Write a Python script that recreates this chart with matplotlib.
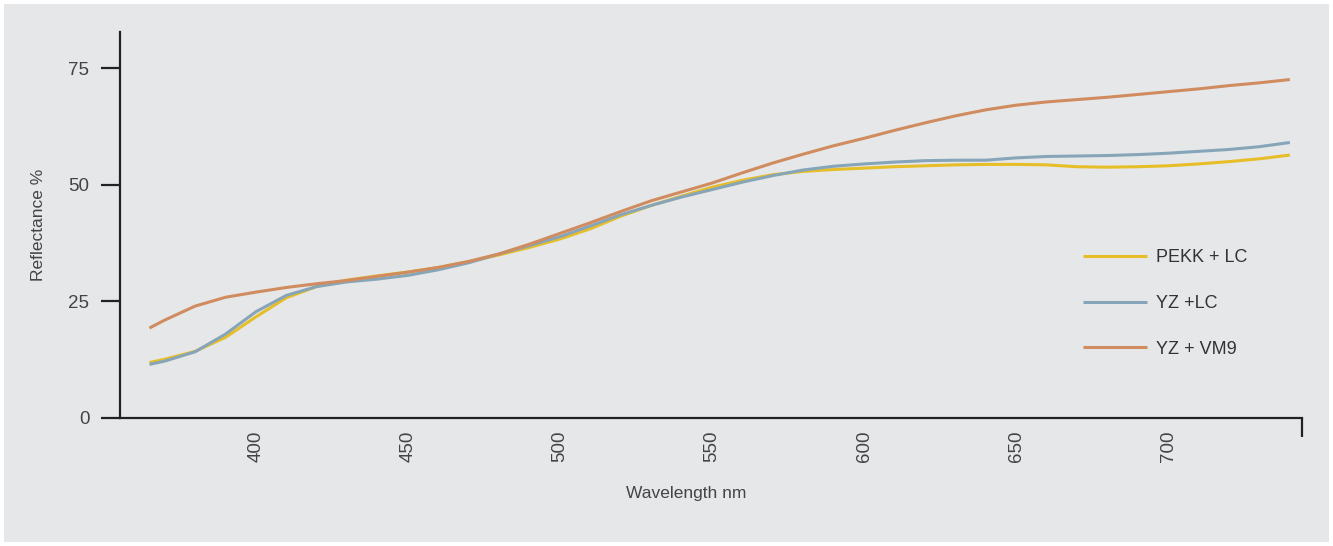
import numpy as np
import matplotlib
matplotlib.use('Agg')
import matplotlib.pyplot as plt
from matplotlib.patches import Rectangle

plt.rcParams['font.family'] = ['Liberation Sans', 'DejaVu Sans']

# wavelengths (nm) and reflectance (%)
wavelength = [365, 370, 380, 390, 400, 410, 420, 430, 440, 450, 460, 470, 480,
              490, 500, 510, 520, 530, 540, 550, 560, 570, 580, 590, 600, 610,
              620, 630, 640, 650, 660, 670, 680, 690, 700, 710, 720, 730, 740]

pekk_lc = [11.9, 12.6, 14.3, 17.3, 21.7, 25.8, 28.2, 29.6, 30.5, 31.3, 32.3,
           33.5, 35.0, 36.6, 38.4, 40.6, 43.3, 45.6, 47.6, 49.5, 51.0, 52.2,
           52.9, 53.3, 53.6, 53.9, 54.1, 54.3, 54.4, 54.4, 54.3, 53.9, 53.8,
           53.9, 54.1, 54.5, 55.0, 55.6, 56.4]

yz_lc = [11.5, 12.2, 14.2, 18.0, 22.8, 26.3, 28.2, 29.2, 29.8, 30.6, 31.8,
         33.3, 35.2, 37.0, 38.9, 41.2, 43.6, 45.6, 47.4, 49.0, 50.6, 52.0,
         53.2, 54.0, 54.5, 54.9, 55.2, 55.3, 55.3, 55.8, 56.1, 56.2, 56.3,
         56.5, 56.8, 57.2, 57.6, 58.2, 59.1]

yz_vm9 = [19.3, 21.0, 24.0, 25.9, 27.0, 28.0, 28.8, 29.5, 30.4, 31.3, 32.3,
          33.6, 35.2, 37.3, 39.6, 41.9, 44.3, 46.6, 48.5, 50.4, 52.6, 54.7,
          56.6, 58.4, 60.0, 61.7, 63.3, 64.8, 66.1, 67.1, 67.8, 68.3, 68.8,
          69.4, 70.0, 70.6, 71.3, 71.9, 72.6]

labels = ['PEKK + LC', 'YZ +LC', 'YZ + VM9']
colors = ['#e6be28', '#87a5b9', '#d08c5f']

xticks = [400, 450, 500, 550, 600, 650, 700]
yticks = [0, 25, 50, 75]

W, H = 1333, 546
fig = plt.figure(figsize=(W / 100, H / 100), dpi=100, facecolor='white')
# grey panel with thin white border
fig.patches.append(Rectangle((4 / W, 4 / H), 1325 / W, 538 / H,
                             transform=fig.transFigure, facecolor='#e6e7e9',
                             edgecolor='none', zorder=-10))

ax = fig.add_axes([120 / W, (H - 418) / H, 1182 / W, 386 / H])
ax.set_facecolor('none')

for y, lab, c in zip([pekk_lc, yz_lc, yz_vm9], labels, colors):
    ax.plot(wavelength, y, color=c, lw=2.2, label=lab, solid_capstyle='butt')

ax.set_xlim(355.3, 744)
ax.set_ylim(0, 82.8)

for s in ['top', 'right']:
    ax.spines[s].set_visible(False)
for s in ['left', 'bottom']:
    ax.spines[s].set_linewidth(1.6)
    ax.spines[s].set_color('#222222')

ax.set_yticks(yticks)
ax.set_xticks(xticks)
ax.set_xticklabels([str(v) for v in xticks], rotation=90)
ax.set_xticks([744], minor=True)
ax.tick_params(axis='y', direction='out', length=14, width=1.6, color='#222222',
               labelsize=13.5, labelcolor='#444444', pad=8)
ax.tick_params(axis='x', which='major', length=0, labelsize=13.5,
               labelcolor='#444444', pad=9)
ax.tick_params(axis='x', which='minor', direction='out', length=13.5,
               width=1.6, color='#222222')

ax.set_xlabel('Wavelength nm', fontsize=12.5, color='#444444')
ax.xaxis.set_label_coords(0.479, -0.175)
ax.set_ylabel('Reflectance %', fontsize=12.5, color='#444444')
ax.yaxis.set_label_coords(-0.063, 0.5)

leg = ax.legend(loc='center left', bbox_to_anchor=(0.815, 0.297), frameon=False,
                fontsize=13, handlelength=3.5, handletextpad=0.5,
                labelspacing=1.6, borderpad=0, borderaxespad=0)
for t in leg.get_texts():
    t.set_color('#333333')

fig.savefig('out.png', dpi=100, facecolor='white')
